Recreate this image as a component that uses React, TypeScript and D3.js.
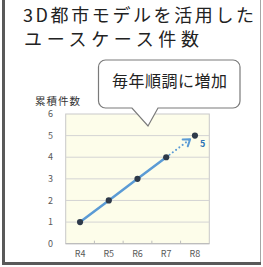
import { useEffect, useRef } from 'react'
import * as d3 from 'd3'

const titleLines = ['3D都市モデルを活用した', 'ユースケース件数']
const calloutText = '毎年順調に増加'
const yAxisTitle = '累積件数'
const categories = ['R4', 'R5', 'R6', 'R7', 'R8']
const counts = [1, 2, 3, 4, 5]
const yTicks = [0, 1, 2, 3, 4, 5, 6]
const lastLabel = '5'

const W = 263
const H = 267
const font = '"Noto Sans CJK JP", "Noto Sans", sans-serif'

export default function App() {
  const svgRef = useRef<SVGSVGElement>(null)

  useEffect(() => {
    if (!svgRef.current) return
    const svg = d3.select(svgRef.current)
    svg.selectAll('*').remove()

    // frame
    svg.append('rect').attr('width', W).attr('height', H).attr('fill', '#fff')
    svg.append('line').attr('x1', 260.5).attr('x2', 260.5).attr('y1', 0).attr('y2', 263)
      .attr('stroke', '#a6a6a6').attr('stroke-width', 1)
    svg.append('rect').attr('x', 2).attr('y', 0).attr('width', 3).attr('height', 265).attr('fill', '#595959')
    svg.append('rect').attr('x', 2).attr('y', 262).attr('width', 259).attr('height', 3).attr('fill', '#595959')

    // title
    const tl = svg.append('text').attr('font-family', font).attr('font-size', 18).attr('fill', '#222')
    tl.append('tspan').attr('x', 23).attr('y', 22).attr('textLength', 231).attr('lengthAdjust', 'spacing').text(titleLines[0])
    tl.append('tspan').attr('x', 24).attr('y', 46).attr('textLength', 175).attr('lengthAdjust', 'spacing').text(titleLines[1])

    const x = d3.scaleBand<string>().domain(categories).range([65.7, 209.3])
    const y = d3.scaleLinear().domain([0, 6]).range([243.7, 114])
    const cx = (c: string) => (x(c) ?? 0) + x.bandwidth() / 2

    // plot area
    const [x0, x1] = x.range()
    svg.append('rect').attr('x', x0).attr('y', y(6)).attr('width', x1 - x0).attr('height', y(0) - y(6))
      .attr('fill', '#fdfdea').attr('stroke', '#c9c9c9').attr('stroke-width', 1)
    svg.append('g').selectAll('line').data(yTicks.slice(1, -1)).enter().append('line')
      .attr('x1', x0).attr('x2', x1).attr('y1', d => y(d)).attr('y2', d => y(d))
      .attr('stroke', '#d4d4d4').attr('stroke-width', 1)
    svg.append('line').attr('x1', x0).attr('x2', x1).attr('y1', y(0)).attr('y2', y(0))
      .attr('stroke', '#bdbdbd').attr('stroke-width', 1.2)
    svg.append('g').selectAll('line').data(categories.slice(1)).enter().append('line')
      .attr('x1', d => x(d) ?? 0).attr('x2', d => x(d) ?? 0)
      .attr('y1', y(0)).attr('y2', y(0) - 3).attr('stroke', '#bdbdbd')

    // axis labels
    svg.append('g').selectAll('text').data(yTicks).enter().append('text')
      .attr('x', 53).attr('y', d => y(d)).attr('dy', '0.35em').attr('text-anchor', 'end')
      .attr('font-family', font).attr('font-size', 9).attr('fill', '#595959').text(d => d)
    svg.append('g').selectAll('text').data(categories).enter().append('text')
      .attr('x', d => cx(d)).attr('y', 253.5).attr('dy', '0.35em').attr('text-anchor', 'middle')
      .attr('font-family', font).attr('font-size', 9).attr('fill', '#595959').text(d => d)
    svg.append('text').attr('x', 35).attr('y', 105).attr('font-family', font).attr('font-size', 10.5)
      .attr('fill', '#333').attr('textLength', 45).text(yAxisTitle)

    // callout
    const bx0 = 98.5, bx1 = 240, by0 = 60, by1 = 108, r = 7
    const tip: [number, number] = [148, 126]
    const callout = d3.path()
    callout.moveTo(bx0 + r, by0)
    callout.lineTo(bx1 - r, by0)
    callout.arcTo(bx1, by0, bx1, by0 + r, r)
    callout.lineTo(bx1, by1 - r)
    callout.arcTo(bx1, by1, bx1 - r, by1, r)
    callout.lineTo(158, by1)
    callout.lineTo(tip[0], tip[1])
    callout.lineTo(132, by1)
    callout.lineTo(bx0 + r, by1)
    callout.arcTo(bx0, by1, bx0, by1 - r, r)
    callout.lineTo(bx0, by0 + r)
    callout.arcTo(bx0, by0, bx0 + r, by0, r)
    callout.closePath()
    svg.append('path').attr('d', callout.toString()).attr('fill', '#fff')
      .attr('stroke', '#7a7a7a').attr('stroke-width', 1.2)
    svg.append('text').attr('x', 112).attr('y', 87).attr('font-family', font).attr('font-size', 16)
      .attr('fill', '#222').attr('textLength', 115).attr('lengthAdjust', 'spacing').text(calloutText)

    // series
    const pts: [number, number][] = categories.map((c, i) => [cx(c), y(counts[i])])
    const line = d3.line()
    const n = pts.length
    svg.append('path').datum(pts.slice(0, n - 1)).attr('d', line).attr('fill', 'none')
      .attr('stroke', '#5b9bd5').attr('stroke-width', 2.5).attr('stroke-linecap', 'round')

    // dotted arrow to last point
    const [ax, ay] = pts[n - 2]
    const [bx, by] = pts[n - 1]
    const ang = Math.atan2(by - ay, bx - ax)
    const len = Math.hypot(bx - ax, by - ay)
    const tipX = ax + Math.cos(ang) * (len - 6)
    const tipY = ay + Math.sin(ang) * (len - 6)
    svg.append('line').attr('x1', ax).attr('y1', ay).attr('x2', tipX).attr('y2', tipY)
      .attr('stroke', '#5b9bd5').attr('stroke-width', 2).attr('stroke-dasharray', '0.1 4')
      .attr('stroke-linecap', 'round')
    const head = d3.path()
    const hl = 7.5
    head.moveTo(tipX + Math.cos(ang + Math.PI - 0.6) * hl, tipY + Math.sin(ang + Math.PI - 0.6) * hl)
    head.lineTo(tipX, tipY)
    head.lineTo(tipX + Math.cos(ang + Math.PI + 0.6) * hl, tipY + Math.sin(ang + Math.PI + 0.6) * hl)
    svg.append('path').attr('d', head.toString()).attr('fill', 'none').attr('stroke', '#5b9bd5')
      .attr('stroke-width', 2).attr('stroke-linejoin', 'round').attr('stroke-linecap', 'round')

    svg.append('g').selectAll('circle').data(pts).enter().append('circle')
      .attr('cx', d => d[0]).attr('cy', d => d[1]).attr('r', 3.1).attr('fill', '#2e3a4a')

    svg.append('text').attr('x', bx + 5).attr('y', by + 8.5).attr('dy', '0.35em')
      .attr('font-family', font).attr('font-size', 9).attr('font-weight', 'bold')
      .attr('fill', '#2e75b6').text(lastLabel)
  }, [])

  return (
    <svg ref={svgRef} width={W} height={H} style={{ position: 'absolute', left: 0, top: 0, display: 'block' }} />
  )
}
